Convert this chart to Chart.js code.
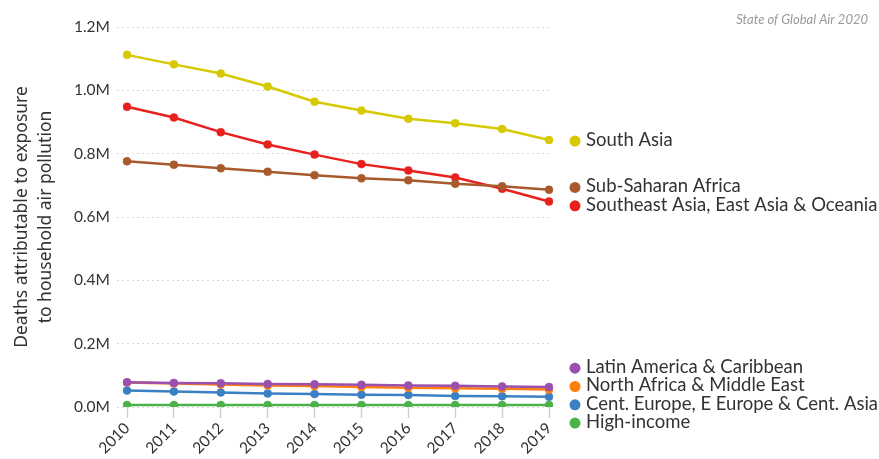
<!DOCTYPE html>
<html>
<head>
<meta charset="utf-8">
<script src="https://cdn.jsdelivr.net/npm/chart.js@4.4.1/dist/chart.umd.min.js"></script>
<style>
  html, body { margin: 0; padding: 0; background: #fff; }
  #wrap { position: relative; width: 879px; height: 459px; }
</style>
</head>
<body>
<div id="wrap"><canvas id="c" width="879" height="459"></canvas></div>
<script>
const years = ['2010','2011','2012','2013','2014','2015','2016','2017','2018','2019'];
const yTicks = [0, 200000, 400000, 600000, 800000, 1000000, 1200000];

const regionNames = [
  'South Asia',
  'Sub-Saharan Africa',
  'Southeast Asia, East Asia & Oceania',
  'Latin America & Caribbean',
  'North Africa & Middle East',
  'Cent. Europe, E Europe & Cent. Asia',
  'High-income'
];
const regionColors = ['#d6c900', '#a95a2c', '#e8211f', '#9b4fae', '#ff7f0e', '#3b80c3', '#4bb24a'];

const southAsia      = [1112000, 1082000, 1053000, 1012000, 964000, 936000, 910000, 896000, 878000, 843000];
const subSaharan     = [776000, 765000, 754000, 743000, 732000, 722000, 716000, 705000, 697000, 686000];
const seAsiaOceania  = [948000, 914000, 868000, 829000, 797000, 767000, 747000, 725000, 689000, 649000];
const latinAmerica   = [78000, 76000, 75000, 73000, 72000, 70000, 68000, 67000, 65000, 63000];
const northAfricaME  = [77000, 74000, 71000, 68000, 66000, 63000, 61000, 59000, 58000, 55000];
const centEurope     = [52000, 49000, 46000, 43000, 41000, 39000, 38000, 35000, 34000, 32000];
const highIncome     = [6000, 6000, 6000, 6000, 6000, 6000, 6000, 6000, 6000, 6000];

const seriesValues = [southAsia, subSaharan, seAsiaOceania, latinAmerica, northAfricaME, centEurope, highIncome];

const datasets = seriesValues.map((vals, i) => ({
  label: regionNames[i],
  data: vals,
  borderColor: regionColors[i],
  backgroundColor: regionColors[i],
  pointBackgroundColor: regionColors[i],
  pointBorderColor: regionColors[i],
  pointRadius: 4,
  pointBorderWidth: 0.5,
  borderWidth: 2.5,
  tension: 0,
  fill: false
}));

const endLabels = {
  id: 'endLabels',
  afterDatasetsDraw(chart) {
    const ctx = chart.ctx;
    const y = chart.scales.y;
    const area = chart.chartArea;
    const gap = 18.3;
    let items = chart.data.datasets.map((ds, i) => ({
      text: ds.label, color: ds.borderColor,
      y: y.getPixelForValue(ds.data[ds.data.length - 1])
    }));
    items.sort((a, b) => a.y - b.y);
    for (let iter = 0; iter < 200; iter++) {
      let moved = false;
      for (let k = 0; k < items.length - 1; k++) {
        const a = items[k], b = items[k + 1];
        const d = b.y - a.y;
        if (d < gap - 0.01) {
          const push = (gap - d) / 2;
          a.y -= push; b.y += push; moved = true;
        }
      }
      if (!moved) break;
    }
    ctx.save();
    ctx.font = '18.5px Lato, "Noto Sans", sans-serif';
    ctx.textBaseline = 'middle';
    ctx.textAlign = 'left';
    items.forEach(it => {
      ctx.beginPath();
      ctx.fillStyle = it.color;
      ctx.arc(area.right + 26, it.y + 1, 5.5, 0, Math.PI * 2);
      ctx.fill();
      ctx.fillStyle = '#333';
      ctx.fillText(it.text, area.right + 37, it.y);
    });
    ctx.restore();
  }
};

const sourceNote = {
  id: 'sourceNote',
  afterDraw(chart) {
    const ctx = chart.ctx;
    ctx.save();
    ctx.font = 'italic 13px Lato, "Noto Sans", sans-serif';
    ctx.fillStyle = '#999';
    ctx.textAlign = 'right';
    ctx.textBaseline = 'middle';
    ctx.fillText('State of Global Air 2020', 868, 20);
    ctx.restore();
  }
};

new Chart(document.getElementById('c'), {
  type: 'line',
  data: { labels: years, datasets },
  options: {
    responsive: false,
    animation: false,
    layout: { padding: { top: 27, right: 330, left: 0, bottom: 0 } },
    plugins: { legend: { display: false }, tooltip: { enabled: false } },
    scales: {
      x: {
        type: 'category',
        offset: false,
        grid: { drawOnChartArea: false, drawTicks: true, tickLength: 11, tickColor: '#d0d0d0', tickWidth: 1.5 },
        border: { display: false },
        ticks: {
          color: '#333', font: { family: 'Lato, "Noto Sans", sans-serif', size: 15.5 },
          maxRotation: 45, minRotation: 45, padding: 1, autoSkip: false
        },
        afterFit(scale) { scale.height = 52; }
      },
      y: {
        min: 0, max: 1200000,
        afterBuildTicks(scale) { scale.ticks = yTicks.map(v => ({ value: v })); },
        grid: { color: '#d8d8d8', lineWidth: 1, borderDash: [2, 3], drawTicks: true, tickLength: 10, tickColor: '#d8d8d8', tickBorderDash: [2, 3] },
        border: { display: false, dash: [2, 3] },
        ticks: {
          color: '#333', font: { family: 'Lato, "Noto Sans", sans-serif', size: 15.5 }, padding: 7,
          callback: v => (v / 1000000).toFixed(1) + 'M'
        },
        title: {
          display: true,
          text: ['Deaths attributable to exposure', 'to household air pollution'],
          color: '#333',
          font: { family: '"Noto Sans", "Open Sans", sans-serif', size: 17.5, lineHeight: 1.38 },
          padding: { top: 10, bottom: 0 }
        },
        afterFit(scale) { scale.width = 127; }
      }
    }
  },
  plugins: [endLabels, sourceNote]
});
</script>
</body>
</html>
